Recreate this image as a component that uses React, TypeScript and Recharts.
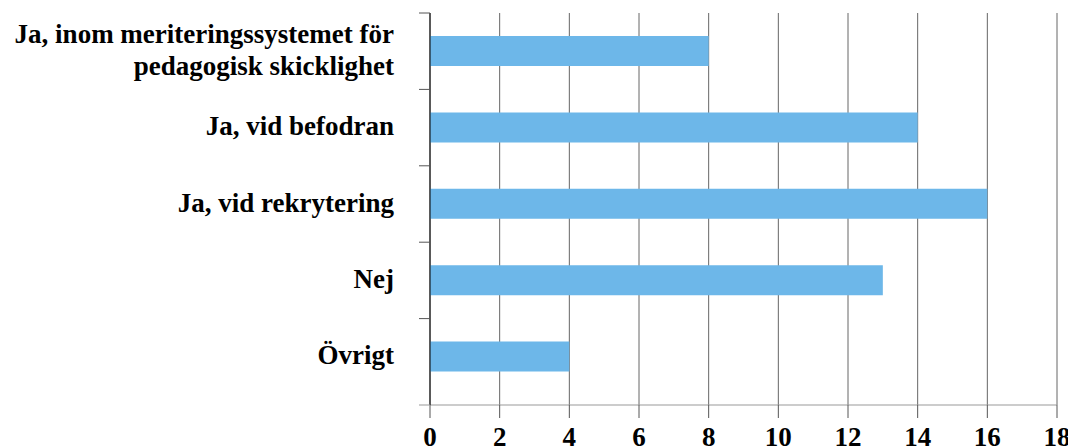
import React from "react";
import { BarChart, Bar, XAxis, YAxis, CartesianGrid } from "recharts";

const categories = [
  "Ja, inom meriteringssystemet för\npedagogisk skicklighet",
  "Ja, vid befodran",
  "Ja, vid rekrytering",
  "Nej",
  "Övrigt",
];
const values = [8, 14, 16, 13, 4];
const xTicks = [0, 2, 4, 6, 8, 10, 12, 14, 16, 18];

const data = categories.map((name, i) => ({ name, value: values[i] }));

const W = 1068;
const H = 447;
const MARGIN = { top: 13, right: 11, left: 0, bottom: 0 };
const Y_AXIS_W = 430;
const X_AXIS_H = 42;
const PAD_BOTTOM = 10;
const AXIS_X = MARGIN.left + Y_AXIS_W;
const PLOT_BOTTOM = H - MARGIN.bottom - X_AXIS_H;
const BAND = (PLOT_BOTTOM - MARGIN.top - PAD_BOTTOM) / categories.length;
const FONT = "'Liberation Serif', 'Times New Roman', serif";
const FS = 27;

const XTick = (props: any) => {
  const { x, payload } = props;
  return (
    <text
      x={x}
      y={PLOT_BOTTOM + 41}
      textAnchor="middle"
      fontFamily={FONT}
      fontWeight="bold"
      fontSize={FS}
      fill="#000"
    >
      {payload.value}
    </text>
  );
};

const YTick = (props: any) => {
  const { y, payload, index } = props;
  const lines = String(payload.value).split("\n");
  const lh = 32;
  const base = y + 7.5 - ((lines.length - 1) * lh) / 2;
  return (
    <g>
      <line x1={AXIS_X - 11} x2={AXIS_X} y1={y - BAND / 2} y2={y - BAND / 2} stroke="#555" />
      {index === categories.length - 1 && (
        <line x1={AXIS_X - 11} x2={AXIS_X} y1={PLOT_BOTTOM} y2={PLOT_BOTTOM} stroke="#999" />
      )}
      <text
        x={AXIS_X - 36}
        y={base}
        textAnchor="end"
        fontFamily={FONT}
        fontWeight="bold"
        fontSize={FS}
        fill="#000"
      >
        {lines.map((l, i) => (
          <tspan key={i} x={AXIS_X - 36} y={base + i * lh}>
            {l}
          </tspan>
        ))}
      </text>
    </g>
  );
};

export default function App() {
  return (
    <div style={{ position: "absolute", left: 0, top: 0, width: W, height: H, background: "#fff" }}>
      <BarChart width={W} height={H} data={data} layout="vertical" margin={MARGIN}>
        <CartesianGrid horizontal={false} stroke="#666" />
        <XAxis
          type="number"
          domain={[0, 18]}
          ticks={xTicks}
          interval={0}
          height={X_AXIS_H}
          tickSize={13}
          axisLine={{ stroke: "#999" }}
          tickLine={{ stroke: "#555" }}
          tick={<XTick />}
        />
        <YAxis
          type="category"
          dataKey="name"
          width={Y_AXIS_W}
          interval={0}
          axisLine={{ stroke: "#000" }}
          tickLine={false}
          padding={{ top: 0, bottom: PAD_BOTTOM }}
          tick={<YTick />}
        />
        <Bar dataKey="value" fill="#6DB7E9" barSize={30} isAnimationActive={false} />
      </BarChart>
    </div>
  );
}
